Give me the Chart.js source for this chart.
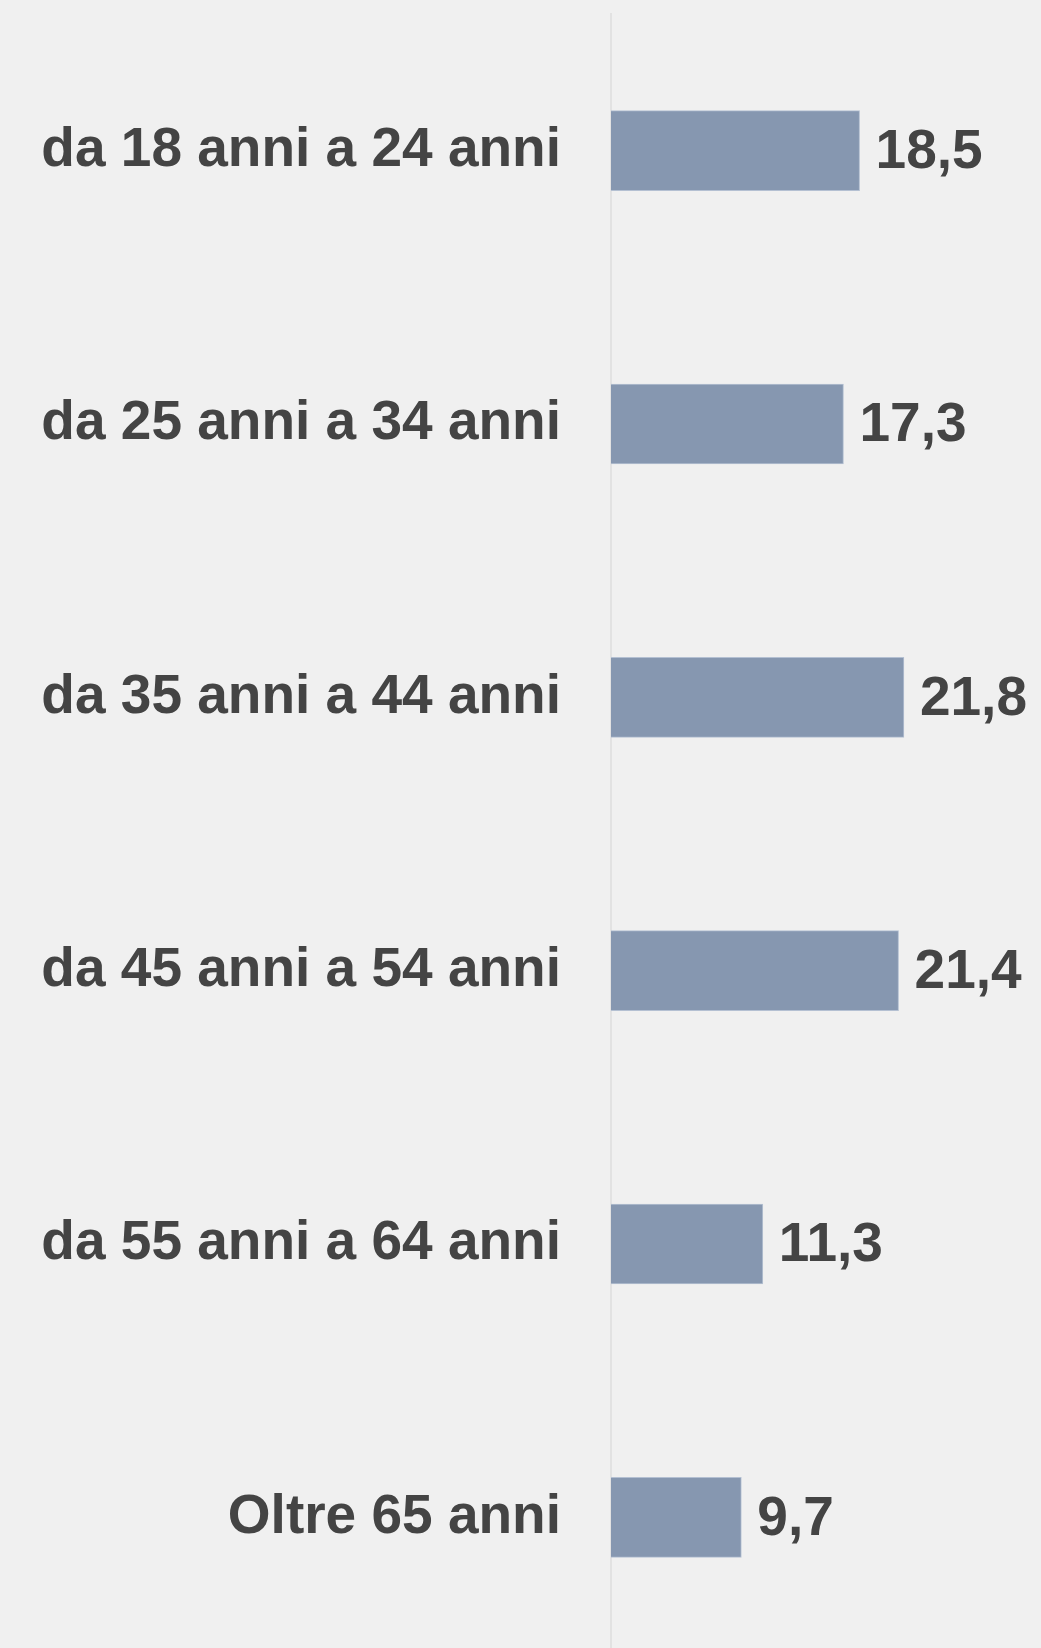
<!DOCTYPE html>
<html>
<head>
<meta charset="utf-8">
<script src="https://cdn.jsdelivr.net/npm/chart.js@4"></script>
<style>
  html, body { margin: 0; padding: 0; background: #f0f0f0; overflow: hidden; }
  #wrap { width: 1041px; height: 1648px; overflow: hidden; }
</style>
</head>
<body>
<div id="wrap"><canvas id="chart" width="1041" height="1654"></canvas></div>
<script>
// age groups and share (%)
var categories = [
    "da 18 anni a 24 anni",
    "da 25 anni a 34 anni",
    "da 35 anni a 44 anni",
    "da 45 anni a 54 anni",
    "da 55 anni a 64 anni",
    "Oltre 65 anni"
];
var values = [18.5, 17.3, 21.8, 21.4, 11.3, 9.7];

var FONT = "'Liberation Sans', Arial, sans-serif";
var TEXT = "#444444";

// draw the number at the end of each bar, italian decimal comma
var valueLabels = {
    id: "valueLabels",
    afterDatasetsDraw: function (chart) {
        var ctx = chart.ctx;
        var meta = chart.getDatasetMeta(0);
        ctx.save();
        ctx.font = "bold 55px " + FONT;
        ctx.fillStyle = TEXT;
        ctx.textAlign = "left";
        ctx.textBaseline = "middle";
        meta.data.forEach(function (bar, i) {
            var txt = values[i].toFixed(1).replace(".", ",");
            ctx.fillText(txt, bar.x + 16, bar.y + 2);
        });
        ctx.restore();
    }
};

var chart = new Chart(document.getElementById("chart"), {
    type: "bar",
    data: {
        labels: categories,
        datasets: [{
            data: values,
            backgroundColor: "#8697b0",
            borderColor: "#b4c0d2",
            borderWidth: 1,
            barThickness: 80
        }]
    },
    options: {
        indexAxis: "y",
        responsive: false,
        animation: false,
        layout: { padding: { top: 14, bottom: 0, left: 0, right: 0 } },
        plugins: {
            legend: { display: false },
            tooltip: { enabled: false }
        },
        scales: {
            x: {
                display: false,
                min: 0,
                max: 32
            },
            y: {
                afterFit: function (scale) {
                    scale.width = 611;
                    // no extra room for half-labels at the ends
                    scale.paddingTop = 0;
                    scale.paddingBottom = 0;
                },
                grid: { display: false, drawTicks: false },
                border: { display: true, color: "#e2e2e2", width: 2 },
                ticks: {
                    padding: 50,
                    color: TEXT,
                    font: { family: FONT, size: 55, weight: "bold" }
                }
            }
        }
    },
    plugins: [valueLabels]
});
</script>
</body>
</html>
